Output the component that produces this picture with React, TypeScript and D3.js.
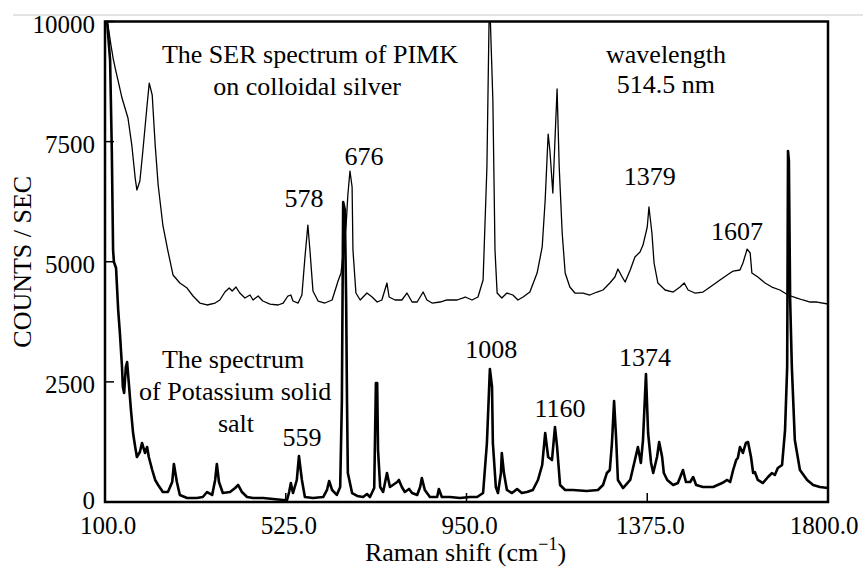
import React from "react";
import * as d3 from "d3";

const W = 863;
const H = 568;
const M = { left: 105, right: 828, top: 21.5, bottom: 502 };

const xDomain = [100, 1800];
const yDomain = [0, 10000];
const xTicks = [100, 525, 950, 1375, 1800];
const yTicks = [0, 2500, 5000, 7500, 10000];

// SER spectrum of PIMK on colloidal silver (upper, thin)
const serShift = [102, 107, 114, 119, 124, 131, 140, 147, 154, 163, 171, 175, 182, 189, 199, 204, 211, 218, 225, 236, 248, 260, 276, 293, 307, 323, 340, 359, 370, 382, 392, 399, 408, 417, 429, 441, 448, 460, 471, 488, 507, 519, 530, 537, 542, 554, 563, 570, 577, 582, 589, 601, 617, 634, 648, 655, 667, 671, 676, 681, 683, 690, 700, 716, 728, 740, 751, 763, 768, 782, 798, 810, 822, 834, 848, 857, 869, 888, 904, 928, 947, 963, 977, 989, 998, 1004, 1012, 1017, 1022, 1033, 1045, 1059, 1071, 1083, 1099, 1116, 1128, 1135, 1142, 1146, 1153, 1158, 1163, 1168, 1175, 1182, 1193, 1205, 1224, 1240, 1257, 1271, 1287, 1299, 1306, 1316, 1323, 1335, 1346, 1358, 1365, 1375, 1379, 1386, 1391, 1400, 1417, 1436, 1452, 1462, 1471, 1487, 1506, 1523, 1546, 1563, 1577, 1593, 1600, 1610, 1617, 1621, 1635, 1652, 1668, 1687, 1706, 1727, 1741, 1758, 1774, 1800];
const serCounts = [10000, 9926, 9510, 9240, 9032, 8761, 8407, 8199, 7991, 7429, 6742, 6493, 6680, 7304, 8262, 8719, 8470, 7429, 6597, 5764, 5223, 4724, 4557, 4453, 4287, 4141, 4100, 4141, 4204, 4370, 4453, 4391, 4474, 4349, 4245, 4308, 4204, 4287, 4183, 4120, 4100, 4141, 4287, 4308, 4183, 4141, 4308, 5078, 5764, 5223, 4391, 4183, 4141, 4204, 4599, 4765, 5764, 6389, 6888, 6555, 5244, 4349, 4204, 4349, 4266, 4162, 4204, 4557, 4266, 4204, 4204, 4349, 4162, 4162, 4370, 4204, 4141, 4162, 4204, 4204, 4266, 4204, 4266, 4620, 6971, 10600, 8366, 5244, 4349, 4245, 4349, 4308, 4204, 4266, 4370, 4765, 5307, 6285, 7658, 7325, 6430, 7533, 8595, 6971, 5598, 4765, 4474, 4349, 4349, 4308, 4370, 4412, 4557, 4682, 4849, 4682, 4578, 4828, 5098, 5203, 5348, 5723, 6139, 5598, 4974, 4557, 4412, 4370, 4474, 4557, 4412, 4349, 4370, 4474, 4620, 4724, 4807, 4828, 4974, 5265, 5182, 4765, 4682, 4557, 4474, 4412, 4308, 4245, 4204, 4162, 4162, 4120];

// Spectrum of Potassium solid salt (lower, thick)
const saltShift = [105, 112, 116, 119, 121, 126, 128, 131, 135, 140, 142, 145, 149, 152, 156, 161, 166, 171, 175, 182, 187, 194, 199, 203, 211, 218, 225, 236, 248, 258, 262, 269, 276, 293, 316, 330, 340, 352, 359, 363, 368, 377, 394, 406, 413, 422, 434, 448, 472, 495, 519, 528, 533, 537, 542, 551, 556, 563, 570, 589, 613, 622, 627, 634, 645, 653, 657, 660, 664, 667, 669, 671, 681, 693, 707, 716, 723, 733, 737, 740, 742, 747, 754, 763, 770, 777, 787, 791, 798, 805, 815, 822, 834, 841, 845, 852, 864, 881, 885, 892, 911, 935, 958, 975, 989, 998, 1003, 1005, 1010, 1012, 1019, 1024, 1031, 1033, 1038, 1045, 1057, 1069, 1080, 1092, 1106, 1118, 1128, 1135, 1142, 1151, 1158, 1163, 1170, 1182, 1200, 1233, 1259, 1271, 1280, 1287, 1292, 1297, 1302, 1306, 1318, 1335, 1346, 1353, 1360, 1365, 1372, 1377, 1384, 1389, 1398, 1403, 1410, 1414, 1422, 1436, 1447, 1459, 1466, 1476, 1483, 1490, 1506, 1530, 1551, 1563, 1570, 1577, 1584, 1588, 1593, 1600, 1607, 1612, 1619, 1624, 1628, 1635, 1647, 1659, 1668, 1675, 1682, 1692, 1699, 1704, 1706, 1708, 1711, 1715, 1722, 1734, 1751, 1765, 1781, 1800];
const saltCounts = [10000, 9198, 7325, 5244, 4994, 4870, 4516, 3996, 3517, 2809, 2393, 2268, 2809, 2913, 2476, 1915, 1436, 1145, 936, 1041, 1228, 1020, 1145, 936, 666, 458, 354, 208, 208, 416, 791, 416, 146, 83, 83, 104, 208, 146, 458, 791, 416, 187, 208, 291, 354, 208, 104, 83, 83, 62, 42, 42, 208, 395, 187, 458, 957, 458, 104, 83, 104, 250, 437, 250, 146, 312, 2123, 6243, 6077, 4204, 2123, 603, 187, 125, 104, 166, 104, 291, 2476, 2476, 1082, 312, 208, 603, 312, 354, 416, 458, 312, 208, 271, 187, 146, 312, 499, 250, 104, 104, 271, 104, 104, 83, 104, 104, 187, 1228, 2331, 2768, 2393, 1228, 312, 187, 603, 1020, 603, 250, 187, 271, 187, 208, 250, 458, 770, 1436, 936, 874, 1561, 1145, 354, 250, 250, 229, 250, 354, 603, 666, 1228, 2102, 1290, 458, 291, 458, 874, 1145, 812, 1290, 2664, 1436, 812, 603, 936, 1249, 936, 603, 458, 354, 395, 666, 416, 416, 520, 354, 312, 312, 395, 458, 416, 666, 874, 916, 1145, 1020, 1228, 1249, 936, 603, 624, 458, 395, 520, 603, 562, 708, 770, 1498, 2809, 7304, 7117, 4204, 2809, 1290, 666, 458, 354, 312, 291];

// Text annotations placed in data coordinates
const annoText = ["The SER spectrum of PIMK", "on colloidal silver", "wavelength", "514.5 nm", "578", "676", "1379", "1607", "The spectrum", "of Potassium solid", "salt", "559", "1008", "1160", "1374"];
const annoShift = [582, 575, 1419, 1419, 568, 709, 1381, 1586, 401, 406, 408, 563, 1008, 1170, 1370];
const annoCounts = [9136, 8470, 9136, 8511, 6139, 7013, 6597, 5452, 2789, 2123, 1457, 1165, 2997, 1769, 2830];

const FONT = "'Liberation Serif', 'Times New Roman', serif";
const FS = 26;
const TICK_FS = 25;

export default function App() {
  const x = d3.scaleLinear().domain(xDomain).range([M.left, M.right]);
  const y = d3.scaleLinear().domain(yDomain).range([M.bottom, M.top]);

  const serPath = d3
    .line<number>()
    .x((_, i) => x(serShift[i]))
    .y((_, i) => y(serCounts[i]))(serShift as any) as string;
  const saltPath = d3
    .line<number>()
    .x((_, i) => x(saltShift[i]))
    .y((_, i) => y(saltCounts[i]))(saltShift as any) as string;

  return (
    <svg
      width={W}
      height={H}
      style={{ position: "absolute", left: 0, top: 0, background: "#fff" }}
      fontFamily={FONT}
    >
      <rect x={0} y={0} width={W} height={H} fill="#fff" />
      <line x1={13} x2={863} y1={15} y2={15} stroke="#c8c8c8" strokeWidth={1} />
      <defs>
        <clipPath id="plotClip">
          <rect x={M.left} y={M.top} width={M.right - M.left} height={M.bottom - M.top} />
        </clipPath>
      </defs>
      <g clipPath="url(#plotClip)">
        <path d={serPath} fill="none" stroke="#000" strokeWidth={1.3} strokeLinejoin="round" />
        <path d={saltPath} fill="none" stroke="#000" strokeWidth={2.6} strokeLinejoin="round" />
      </g>
      <rect
        x={M.left}
        y={M.top}
        width={M.right - M.left}
        height={M.bottom - M.top}
        fill="none"
        stroke="#000"
        strokeWidth={2.5}
      />
      {yTicks.map((t) => (
        <g key={"y" + t}>
          <line x1={M.left} x2={M.left + 9} y1={y(t)} y2={y(t)} stroke="#000" strokeWidth={1.5} />
          <text
            x={M.left - 10}
            y={y(t) + (t === 0 ? 7 : 11)}
            textAnchor="end"
            fontSize={TICK_FS}
            fill="#000"
          >
            {String(t)}
          </text>
        </g>
      ))}
      {xTicks.map((t, i) => (
        <g key={"x" + t}>
          <line x1={x(t)} x2={x(t)} y1={M.bottom} y2={M.bottom - 9} stroke="#000" strokeWidth={1.5} />
          <text
            x={x(t) + (i === xTicks.length - 1 ? -4 : 3)}
            y={M.bottom + 32}
            textAnchor="middle"
            fontSize={TICK_FS}
            fill="#000"
          >
            {t.toFixed(1)}
          </text>
        </g>
      ))}
      <text x={(M.left + M.right) / 2 - 1} y={561} textAnchor="middle" fontSize={FS} fill="#000">
        Raman shift (cm
        <tspan fontSize={18} dy={-11}>−1</tspan>
        <tspan dy={11}>)</tspan>
      </text>
      <text
        transform={`translate(31, ${(M.top + M.bottom) / 2}) rotate(-90)`}
        textAnchor="middle"
        fontSize={FS}
        fill="#000"
      >
        COUNTS / SEC
      </text>
      {annoText.map((s, i) => (
        <text
          key={"a" + i}
          x={x(annoShift[i])}
          y={y(annoCounts[i])}
          textAnchor="middle"
          fontSize={FS}
          fill="#000"
        >
          {s}
        </text>
      ))}
    </svg>
  );
}
